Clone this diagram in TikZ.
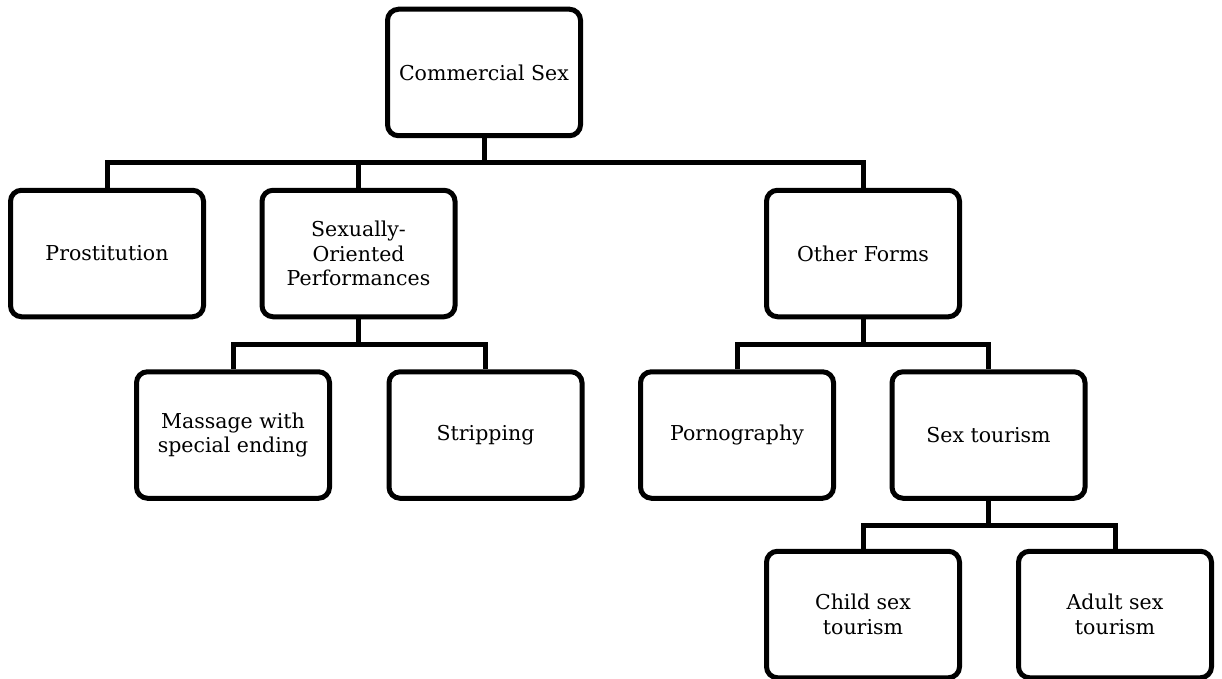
\documentclass[tikz,border=0pt]{standalone}
\usepackage{fontspec}
\setmainfont{DejaVu Serif}
\begin{document}
\begin{tikzpicture}[x=1pt,y=-1pt,
  box/.style={draw=black, line width=5pt, rounded corners=11pt, fill=white,
    minimum width=193pt, minimum height=126.5pt, inner sep=2pt, align=center,
    font=\fontsize{20.5}{24.5}\selectfont},
  link/.style={draw=black, line width=5pt}]
\useasboundingbox (0,0) rectangle (1222,679);
\node[box] (cs) at (484,72.5) {Commercial Sex};
\node[box] (pr) at (107,253.5) {Prostitution};
\node[box] (so) at (358.5,253.5) {Sexually-\\Oriented\\Performances};
\node[box] (of) at (863,253.5) {Other Forms};
\node[box] (ma) at (233,435) {Massage with\\special ending};
\node[box] (st) at (485.5,435) {Stripping};
\node[box] (po) at (737,435) {Pornography};
\node[box] (se) at (988.5,435) {Sex tourism};
\node[box] (ch) at (863,614.5) {Child sex\\tourism};
\node[box] (ad) at (1115,614.5) {Adult sex\\tourism};
\draw[link] (cs.south) -- ++(0,24.3) -| (pr.north);
\draw[link] (cs.south) -- ++(0,24.3) -| (so.north);
\draw[link] (cs.south) -- ++(0,24.3) -| (of.north);
\draw[link] (so.south) -- ++(0,25) -| (ma.north);
\draw[link] (so.south) -- ++(0,25) -| (st.north);
\draw[link] (of.south) -- ++(0,25) -| (po.north);
\draw[link] (of.south) -- ++(0,25) -| (se.north);
\draw[link] (se.south) -- ++(0,25) -| (ch.north);
\draw[link] (se.south) -- ++(0,25) -| (ad.north);
\end{tikzpicture}
\end{document}
